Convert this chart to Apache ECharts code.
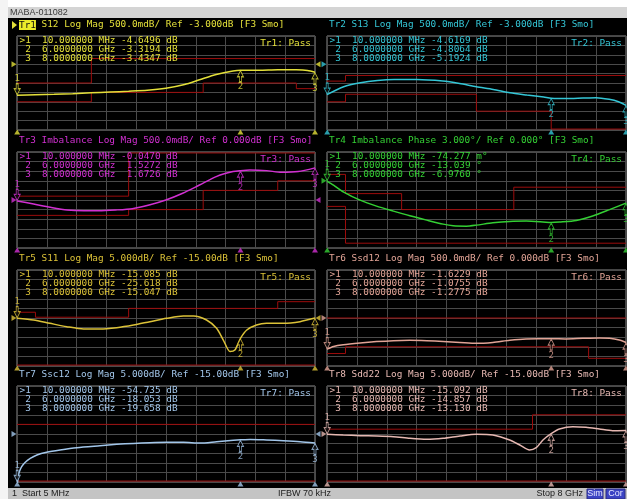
<!DOCTYPE html>
<html>
<head>
<meta charset="utf-8">
<script src="https://cdn.jsdelivr.net/npm/echarts@6.0.0/dist/echarts.min.js"></script>
<style>
  html, body { margin: 0; padding: 0; background: #fff; }
  #chart { width: 627px; height: 499px; }
</style>
</head>
<body>
<div id="chart"></div>
<script>
// ---- sweep settings ----
const instrumentTitle = 'MABA-011082';
const startGHz = 0.005;
const stopGHz = 8;
const ifbwKHz = 70;
const markerFreqGHz = [0.01, 6, 8];

// ---- trace setup ----
const traceIds = ['Tr1', 'Tr2', 'Tr3', 'Tr4', 'Tr5', 'Tr6', 'Tr7', 'Tr8'];
const traceParams = ['S12', 'S13', 'Imbalance', 'Imbalance', 'S11', 'Ssd12', 'Ssc12', 'Sdd22'];
const traceFormats = ['Log Mag', 'Log Mag', 'Log Mag', 'Phase', 'Log Mag', 'Log Mag', 'Log Mag', 'Log Mag'];
const traceUnits = ['dB', 'dB', 'dB', '°', 'dB', 'dB', 'dB', 'dB'];
const scalePerDiv = [0.5, 0.5, 0.5, 3, 5, 0.5, 5, 5];
const refLevel = [-3, -3, 0, 0, -15, 0, -15, -15];
const refPosDiv = [7, 7, 5, 7, 5, 5, 5, 5];
const traceColors = ['#e4e03a', '#34c6d6', '#d230d2', '#34d034', '#dcc238', '#e2a496', '#a2c6ea', '#e6b8b2'];

// ---- measured traces (GHz, value) ----
const tr1Freq = [0.005, 0.5, 1.0, 1.5, 2.0, 2.5, 3.0, 3.5, 4.0, 4.5, 4.9, 5.35, 5.8, 6.0, 6.5, 7.0, 7.5, 7.8, 8.0];
const tr1Val  = [-4.65, -4.62, -4.60, -4.57, -4.52, -4.48, -4.44, -4.39, -4.28, -4.08, -3.83, -3.55, -3.36, -3.32, -3.32, -3.29, -3.30, -3.34, -3.43];

const tr2Freq = [0.005, 0.45, 0.9, 1.35, 1.8, 2.4, 3.1, 3.55, 4.0, 4.45, 4.9, 5.35, 5.8, 6.0, 6.4, 6.85, 7.2, 7.55, 7.8, 8.0];
const tr2Val  = [-4.62, -4.20, -3.99, -3.87, -3.82, -3.82, -3.90, -4.03, -4.20, -4.34, -4.52, -4.64, -4.75, -4.81, -4.83, -4.80, -4.78, -4.87, -5.00, -5.19];

const tr3Freq = [0.005, 0.45, 0.9, 1.35, 1.8, 2.2, 2.65, 3.1, 3.55, 4.0, 4.45, 4.9, 5.35, 5.8, 6.0, 6.25, 6.7, 7.1, 7.55, 8.0];
const tr3Val  = [-0.047, -0.21, -0.38, -0.52, -0.56, -0.56, -0.52, -0.45, -0.26, 0.0, 0.35, 0.78, 1.22, 1.48, 1.527, 1.56, 1.53, 1.44, 1.48, 1.673];

const tr4Freq = [0.005, 0.18, 0.44, 0.89, 1.33, 1.78, 2.22, 2.67, 3.11, 3.38, 3.73, 4.0, 4.44, 4.89, 5.33, 5.78, 6.0, 6.22, 6.67, 7.11, 7.56, 8.0];
const tr4Val  = [-0.074, -1.35, -3.44, -6.04, -7.92, -9.48, -10.94, -12.29, -13.54, -14.06, -14.17, -13.85, -13.13, -12.7, -12.6, -12.85, -13.04, -12.9, -12.4, -11.0, -9.0, -6.976];

const tr5Freq = [0.005, 0.45, 0.89, 1.34, 1.79, 2.23, 2.68, 3.13, 3.57, 4.02, 4.47, 4.74, 5.09, 5.36, 5.54, 5.72, 5.85, 6.0, 6.17, 6.43, 6.7, 7.15, 7.6, 8.0];
const tr5Val  = [-15.085, -16.04, -17.78, -19.51, -20.73, -20.73, -20.03, -18.65, -16.9, -15.17, -13.96, -13.96, -16.04, -20.38, -26.46, -32.5, -31.7, -25.618, -21.25, -18.65, -17.78, -17.78, -16.9, -15.047];

const tr6Freq = [0.005, 0.18, 0.44, 0.89, 1.33, 1.78, 2.22, 2.67, 3.11, 3.56, 4.0, 4.44, 4.89, 5.33, 5.78, 6.0, 6.4, 6.84, 7.29, 7.56, 7.82, 8.0];
const tr6Val  = [-1.6229, -1.48, -1.39, -1.30, -1.23, -1.18, -1.16, -1.18, -1.22, -1.27, -1.32, -1.27, -1.16, -1.09, -1.08, -1.0755, -1.09, -1.06, -1.04, -1.06, -1.15, -1.2775];

const tr7Freq = [0.005, 0.027, 0.07, 0.13, 0.22, 0.36, 0.54, 0.8, 1.16, 1.61, 2.23, 2.68, 3.13, 3.57, 4.02, 4.47, 4.92, 5.36, 5.81, 6.0, 6.26, 6.7, 7.15, 7.6, 8.0];
const tr7Val  = [-54.735, -38.1, -34.6, -32.0, -29.8, -27.7, -25.9, -24.5, -23.3, -22.1, -21.1, -20.4, -19.9, -19.5, -19.3, -19.3, -19.7, -19.0, -18.3, -18.053, -17.8, -18.1, -18.5, -19.0, -19.658];

const tr8Freq = [0.005, 0.44, 0.89, 1.33, 1.78, 2.22, 2.67, 3.11, 3.56, 4.0, 4.44, 4.89, 5.16, 5.42, 5.6, 5.78, 6.0, 6.22, 6.58, 6.93, 7.29, 7.64, 8.0];
const tr8Val  = [-15.092, -15.52, -15.87, -16.04, -16.39, -17.26, -17.78, -17.26, -16.04, -15.17, -15.52, -18.13, -20.73, -23.33, -22.12, -18.13, -14.857, -12.4, -11.18, -11.53, -12.4, -13.26, -13.13];

// ---- marker readouts at 10 MHz, 6 GHz, 8 GHz ----
const tr1Markers = [-4.6496, -3.3194, -3.4347];
const tr2Markers = [-4.6169, -4.8064, -5.1924];
const tr3Markers = [-0.0470, 1.5272, 1.6726];
const tr4Markers = [-0.074277, -13.039, -6.9760];
const tr5Markers = [-15.085, -25.618, -15.047];
const tr6Markers = [-1.6229, -1.0755, -1.2775];
const tr7Markers = [-54.735, -18.053, -19.658];
const tr8Markers = [-15.092, -14.857, -13.130];

// ---- limit lines: [start GHz, stop GHz, value] ----
const tr1Upper = [[0.005, 2, -4.0], [2, 8, -2.7]];
const tr1Lower = [[0.005, 2, -5.0], [2, 5, -4.5], [5, 7.5, -4.0], [7.5, 8, -4.3]];
const tr2Upper = [[0.005, 0.5, -3.9], [0.5, 8, -3.6]];
const tr2Lower = [[0.005, 0.5, -5.0], [0.5, 4, -4.6], [4, 6, -5.5], [6, 8, -6.45]];
const tr3Upper = [[0.005, 3, 0.2], [3, 8, 2.45]];
const tr3Lower = [[0.005, 3, -0.8], [3, 5, -0.5], [5, 7, 0.5], [7, 8, 1.0]];
const tr4Upper = [[0.005, 0.5, 2], [0.5, 2, -4], [2, 5, -9], [5, 8, -2]];
const tr4Lower = [[0.005, 0.5, -8], [0.5, 8, -19.5]];
const tr5Upper = [[0.005, 0.5, -12], [0.5, 3, -14.6], [3, 7, -10], [7, 8, -6.5]];
const tr5Lower = [[0.005, 8, -39.5]];
const tr6Upper = [[0.005, 8, 0]];
const tr6Lower = [[0.005, 0.5, -1.85], [0.5, 7, -1.5], [7, 8, -2.1]];
const tr7Upper = [[0.005, 8, -10]];
const tr7Lower = [[0.005, 8, -39.5]];
const tr8Upper = [[0.005, 5.5, -12.5], [5.5, 8, -5]];
const tr8Lower = [[0.005, 8, -39.5]];

const traceFreqs = [tr1Freq, tr2Freq, tr3Freq, tr4Freq, tr5Freq, tr6Freq, tr7Freq, tr8Freq];
const traceVals = [tr1Val, tr2Val, tr3Val, tr4Val, tr5Val, tr6Val, tr7Val, tr8Val];
const traceMarkers = [tr1Markers, tr2Markers, tr3Markers, tr4Markers, tr5Markers, tr6Markers, tr7Markers, tr8Markers];
const upperLimits = [tr1Upper, tr2Upper, tr3Upper, tr4Upper, tr5Upper, tr6Upper, tr7Upper, tr8Upper];
const lowerLimits = [tr1Lower, tr2Lower, tr3Lower, tr4Lower, tr5Lower, tr6Lower, tr7Lower, tr8Lower];

// ---- screen layout ----
const colLeft = [17, 327];
const colWidth = [298, 299];
const rowTop = [36, 152, 270, 386];
const rowHeight = [94, 96, 96, 96];
const monoFont = '9.4px "DejaVu Sans Mono", "Liberation Mono", monospace';
const uiFont = '9px "Liberation Sans", "DejaVu Sans", sans-serif';
const limitColor = '#9c0c0c';
const gratColor = '#4a4a4a';

// ---- number formatting like the analyzer readouts ----
function fmtSig(v, sig) {
  const a = Math.abs(v);
  const intDigits = a < 1 ? 1 : Math.floor(Math.log10(a)) + 1;
  return a.toFixed(Math.max(0, sig - intDigits));
}
function fmtScale(v, unit) {
  if (v !== 0 && Math.abs(v) < 1) return fmtSig(v * 1000, 4) + 'm' + unit;
  return fmtSig(v, 4) + unit;
}
function fmtRef(v, unit) {
  return (v < 0 ? '-' : '') + fmtSig(v, 4) + unit;
}
function fmtReadout(v, unit) {
  let val = v, u = unit;
  if (unit === '°' && Math.abs(v) < 1) { val = v * 1000; u = 'm°'; }
  return (val < 0 ? '-' : ' ') + fmtSig(val, 5) + ' ' + u;
}
function fmtFreq(ghz) {
  if (ghz >= 1) return fmtSig(ghz, 8) + ' GHz';
  return fmtSig(ghz * 1000, 8) + ' MHz';
}
function steps(segs) {
  const pts = [];
  segs.forEach(([a, b, v]) => { pts.push([a, v]); pts.push([b, v]); });
  return pts;
}

const arrowUp = 'path://M3,0 L6,6 L4,6 L4,11 L2,11 L2,6 L0,6 Z';
const arrowDown = 'path://M2,0 L4,0 L4,5 L6,5 L3,11 L0,5 L2,5 Z';

const grids = [], xAxes = [], yAxes = [], series = [], graphics = [];

// window chrome
graphics.push({ type: 'rect', shape: { x: 0, y: 0, width: 627, height: 7 }, style: { fill: '#ffffff' }, z: 50 });
graphics.push({ type: 'rect', shape: { x: 0, y: 0, width: 8, height: 499 }, style: { fill: '#f4f4f4' }, z: 50 });
graphics.push({ type: 'rect', shape: { x: 8, y: 7, width: 619, height: 11 }, style: { fill: '#d4d4d4' }, z: 50 });
graphics.push({ type: 'text', x: 10, y: 12.5, style: { text: instrumentTitle, fill: '#3a3a3a', font: uiFont, verticalAlign: 'middle' }, z: 51 });
graphics.push({ type: 'rect', shape: { x: 8, y: 488, width: 619, height: 11 }, style: { fill: '#c4c4c4' }, z: 50 });
graphics.push({ type: 'text', x: 12, y: 494, style: { text: '1', fill: '#202020', font: uiFont, verticalAlign: 'middle' }, z: 51 });
graphics.push({ type: 'text', x: 22, y: 494, style: { text: 'Start ' + (startGHz * 1000) + ' MHz', fill: '#202020', font: uiFont, verticalAlign: 'middle' }, z: 51 });
graphics.push({ type: 'text', x: 278, y: 494, style: { text: 'IFBW ' + ifbwKHz + ' kHz', fill: '#202020', font: uiFont, verticalAlign: 'middle' }, z: 51 });
graphics.push({ type: 'text', x: 583, y: 494, style: { text: 'Stop ' + stopGHz + ' GHz', fill: '#202020', font: uiFont, align: 'right', verticalAlign: 'middle' }, z: 51 });
graphics.push({ type: 'rect', shape: { x: 587, y: 489, width: 16, height: 10 }, style: { fill: '#3c44c4', stroke: '#2a2a80' }, z: 51 });
graphics.push({ type: 'text', x: 595, y: 494, style: { text: 'Sim', fill: '#e8e8ff', font: uiFont, align: 'center', verticalAlign: 'middle' }, z: 52 });
graphics.push({ type: 'rect', shape: { x: 606, y: 489, width: 19, height: 10 }, style: { fill: '#3c44c4', stroke: '#2a2a80' }, z: 51 });
graphics.push({ type: 'text', x: 615.5, y: 494, style: { text: 'Cor', fill: '#e8e8ff', font: uiFont, align: 'center', verticalAlign: 'middle' }, z: 52 });
// active trace pointer
graphics.push({ type: 'polygon', shape: { points: [[12, 21], [17, 25], [12, 29]] }, style: { fill: traceColors[0] }, z: 50 });

traceIds.forEach((id, i) => {
  const c = i % 2, r = Math.floor(i / 2);
  const color = traceColors[i];
  const unit = traceUnits[i];
  const yMin = refLevel[i] - refPosDiv[i] * scalePerDiv[i];
  const yMax = yMin + 10 * scalePerDiv[i];
  const left = colLeft[c], top = rowTop[r], width = colWidth[c], height = rowHeight[r];

  grids.push({ left, top, width, height, show: true, borderColor: '#8a8a8a', borderWidth: 1, backgroundColor: 'transparent', containLabel: false });

  // frequency axis (data) and division axis (graticule)
  xAxes.push({ gridIndex: i, type: 'value', min: startGHz, max: stopGHz, show: false });
  xAxes.push({
    gridIndex: i, type: 'value', min: 0, max: 10, interval: 1,
    axisLine: { show: false }, axisTick: { show: false }, axisLabel: { show: false },
    splitLine: { show: true, lineStyle: { color: gratColor, width: 1 } }
  });
  yAxes.push({
    gridIndex: i, type: 'value', min: yMin, max: yMax, interval: scalePerDiv[i],
    axisLine: { show: false }, axisTick: { show: false }, axisLabel: { show: false },
    splitLine: { show: true, lineStyle: { color: gratColor, width: 1 } }
  });

  const xi = i * 2;
  [upperLimits[i], lowerLimits[i]].forEach(segs => {
    series.push({
      type: 'line', xAxisIndex: xi, yAxisIndex: i, data: steps(segs),
      symbol: 'none', silent: true, z: 2,
      lineStyle: { color: limitColor, width: 1 }
    });
  });

  series.push({
    type: 'line', xAxisIndex: xi, yAxisIndex: i,
    data: traceFreqs[i].map((f, k) => [f, traceVals[i][k]]),
    symbol: 'none', smooth: 0.25, silent: true, z: 3,
    lineStyle: { color, width: 1.5 }
  });

  // marker symbols on the trace
  series.push({
    type: 'scatter', xAxisIndex: xi, yAxisIndex: i, clip: false, silent: true, z: 5,
    data: traceMarkers[i].map((v, k) => ({
      value: [markerFreqGHz[k], Math.min(yMax, Math.max(yMin, v))],
      symbol: k === 0 ? arrowDown : arrowUp,
      symbolOffset: k === 0 ? [0, -6] : [0, 6],
      label: { position: k === 0 ? 'top' : 'bottom' }
    })),
    symbolSize: [6, 11],
    itemStyle: { color: '#000', borderColor: color, borderWidth: 1 },
    label: {
      show: true, distance: 0, color, fontSize: 9, fontFamily: 'DejaVu Sans Mono',
      formatter: p => String(p.dataIndex + 1)
    }
  });

  // stimulus marker ticks under the graticule
  series.push({
    type: 'scatter', xAxisIndex: xi, yAxisIndex: i, clip: false, silent: true, z: 5,
    data: markerFreqGHz.map(f => [f, yMin]),
    symbol: 'triangle', symbolSize: [6, 5], symbolOffset: [0, 2],
    itemStyle: { color }
  });

  // reference level pointers
  series.push({
    type: 'scatter', xAxisIndex: xi, yAxisIndex: i, clip: false, silent: true, z: 5,
    data: [
      { value: [startGHz, refLevel[i]], symbolRotate: -90, symbolOffset: [-3, 0] },
      { value: [stopGHz, refLevel[i]], symbolRotate: 90, symbolOffset: [3, 0] }
    ],
    symbol: 'triangle', symbolSize: [6, 5],
    itemStyle: { color }
  });

  // trace header
  const header = ' ' + traceParams[i] + ' ' + traceFormats[i] + ' ' + fmtScale(scalePerDiv[i], unit) +
    '/ Ref ' + fmtRef(refLevel[i], unit) + ' [F3 Smo]';
  const headerY = top - 11;
  if (i === 0) {
    graphics.push({
      type: 'text', x: left + 2, y: headerY, z: 60,
      style: {
        text: '{hl|' + id + '}{t|' + header + '}',
        verticalAlign: 'middle',
        rich: {
          hl: { fill: '#101010', backgroundColor: '#ecec2a', font: monoFont, padding: [1, 0, 0, 0] },
          t: { fill: color, font: monoFont }
        }
      }
    });
  } else {
    graphics.push({ type: 'text', x: left + 2, y: headerY, z: 60, style: { text: id + header, fill: color, font: monoFont, verticalAlign: 'middle' } });
  }

  // marker readout table
  traceMarkers[i].forEach((v, k) => {
    const line = (k === 0 ? '>' : ' ') + (k + 1) + '  ' + fmtFreq(markerFreqGHz[k]) + ' ' + fmtReadout(v, unit);
    graphics.push({ type: 'text', x: left + 2.5, y: top + 4.2 + k * 9.1, z: 60, style: { text: line, fill: color, font: monoFont, verticalAlign: 'middle' } });
  });

  // limit test verdict
  graphics.push({ type: 'text', x: left + width - 4, y: top + 7.5, z: 60, style: { text: id + ': Pass', fill: color, font: monoFont, align: 'right', verticalAlign: 'middle' } });
});

const chart = echarts.init(document.getElementById('chart'), null, { renderer: 'canvas' });
chart.setOption({
  backgroundColor: '#000',
  animation: false,
  grid: grids,
  xAxis: xAxes,
  yAxis: yAxes,
  series,
  graphic: graphics
});
</script>
</body>
</html>
